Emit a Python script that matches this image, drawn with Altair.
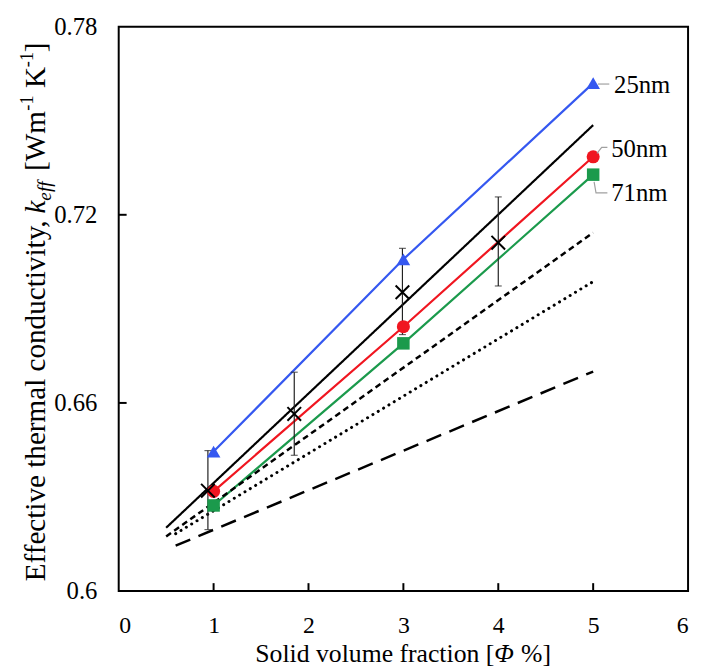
import altair as alt
import pandas as pd

# ---------------- data ----------------
phi_sim = [1, 3, 5]
k_25nm = [0.6445, 0.7058, 0.7620]
k_50nm = [0.6318, 0.6843, 0.7385]
k_71nm = [0.6273, 0.6790, 0.7328]

# experimental points (black crosses) with error bars
phi_exp = [0.94, 1.85, 2.99, 4.0]
k_exp = [0.6320, 0.6565, 0.6953, 0.7111]
k_exp_lo = [0.6196, 0.6433, 0.6818, 0.6973]
k_exp_hi = [0.6448, 0.6698, 0.7093, 0.7257]

# model / correlation lines (start and end points)
solid_x = [0.5, 5.0]
solid_k = [0.6202, 0.7486]
shortdash_x = [0.5, 5.0]
shortdash_k = [0.6174, 0.7143]
dotted_x = [0.6, 5.0]
dotted_k = [0.6183, 0.6987]
longdash_x = [0.6, 5.0]
longdash_k = [0.6145, 0.6700]

# series labels with leader lines
label_names = ["25nm", "50nm", "71nm"]
label_x = [5.22, 5.19, 5.19]
label_k = [0.7614, 0.7411, 0.7269]
leader_25_x = [5.05, 5.17]
leader_25_k = [0.7617, 0.7617]
leader_50_x = [5.04, 5.09, 5.15]
leader_50_k = [0.7396, 0.7415, 0.7415]
leader_71_x = [5.01, 5.03, 5.15]
leader_71_k = [0.7305, 0.7270, 0.7270]

x_ticks = [0, 1, 2, 3, 4, 5, 6]
y_ticks = [0.6, 0.66, 0.72, 0.78]
x_inner_ticks = [1, 2, 3, 4, 5]
y_inner_ticks = [0.66, 0.72]

series_names = ["25nm", "50nm", "71nm"]
series_colors = ["#3558F0", "#F01620", "#1B9A4C"]

# ---------------- layout ----------------
W, H = 576, 571
FONT = "Liberation Serif"

xs = alt.Scale(domain=[0, 6], nice=False, zero=False)
ys = alt.Scale(domain=[0.6, 0.78], nice=False, zero=False)

X = alt.X("phi:Q", scale=xs,
          axis=alt.Axis(values=x_ticks, format="d", title=None, grid=False,
                        ticks=False, domain=False, labelFont=FONT, labelFontSize=24,
                        labelColor="black", labelPadding=23))
Y = alt.Y("k:Q", scale=ys,
          axis=alt.Axis(values=y_ticks, format="~g", title=None, grid=False,
                        ticks=False, domain=False, labelFont=FONT, labelFontSize=25,
                        labelColor="black", labelPadding=22))

sim_rows = []
for name, vals in zip(series_names, [k_25nm, k_50nm, k_71nm]):
    for p, k in zip(phi_sim, vals):
        sim_rows.append({"series": name, "phi": p, "k": k})
sim = pd.DataFrame(sim_rows)

color = alt.Color("series:N", scale=alt.Scale(domain=series_names, range=series_colors), legend=None)

base_axes = alt.Chart(sim).mark_line(strokeWidth=2.2).encode(x=X, y=Y, color=color, detail="series:N")

sim_pts = alt.Chart(sim).mark_point(filled=True, opacity=1).encode(
    x="phi:Q", y="k:Q", color=color,
    shape=alt.Shape("series:N", scale=alt.Scale(domain=series_names,
                                                range=["triangle-up", "circle", "square"]), legend=None),
    size=alt.Size("series:N", scale=alt.Scale(domain=series_names, range=[190, 160, 140]), legend=None),
)


def model_line(xv, kv, dash, width):
    df = pd.DataFrame({"phi": xv, "k": kv})
    return alt.Chart(df).mark_line(color="black", strokeWidth=width, strokeDash=dash,
                                   strokeCap="butt").encode(x="phi:Q", y="k:Q")


solid = model_line(solid_x, solid_k, [1, 0], 2.2)
shortdash = model_line(shortdash_x, shortdash_k, [6, 4], 2.5)
dotted = alt.Chart(pd.DataFrame({"phi": dotted_x, "k": dotted_k})).mark_line(
    color="black", strokeWidth=3, strokeDash=[0.1, 6.2], strokeCap="round").encode(x="phi:Q", y="k:Q")
longdash = model_line(longdash_x, longdash_k, [16, 9], 2.5)

exp = pd.DataFrame({"phi": phi_exp, "k": k_exp, "lo": k_exp_lo, "hi": k_exp_hi})
err = alt.Chart(exp).mark_rule(color="#222222", strokeWidth=1.2).encode(x="phi:Q", y="lo:Q", y2="hi:Q")
cap_lo = alt.Chart(exp).mark_tick(color="#222222", orient="horizontal", size=7, thickness=1.2).encode(
    x="phi:Q", y="lo:Q")
cap_hi = alt.Chart(exp).mark_tick(color="#222222", orient="horizontal", size=7, thickness=1.2).encode(
    x="phi:Q", y="hi:Q")
crosses = alt.Chart(exp).mark_point(shape="M-1,-1L1,1M-1,1L1,-1", size=190, filled=False,
                                    color="black", strokeWidth=2, opacity=1).encode(x="phi:Q", y="k:Q")

lead_rows = []
for name, lx, lk in [("25nm", leader_25_x, leader_25_k), ("50nm", leader_50_x, leader_50_k),
                     ("71nm", leader_71_x, leader_71_k)]:
    for i, (a, b) in enumerate(zip(lx, lk)):
        lead_rows.append({"series": name, "phi": a, "k": b, "o": i})
leaders = alt.Chart(pd.DataFrame(lead_rows)).mark_line(color="#A0A0A0", strokeWidth=1.2).encode(
    x="phi:Q", y="k:Q", detail="series:N", order="o:Q")

labels = alt.Chart(pd.DataFrame({"name": label_names, "phi": label_x, "k": label_k})).mark_text(
    font=FONT, fontSize=25, align="left", baseline="middle", color="black").encode(
    x="phi:Q", y="k:Q", text="name:N")

# inner ticks
xt = alt.Chart(pd.DataFrame({"phi": x_inner_ticks})).mark_rule(color="black", strokeWidth=2).encode(
    x="phi:Q", y=alt.value(H), y2=alt.value(H - 8))
yt = alt.Chart(pd.DataFrame({"k": y_inner_ticks})).mark_rule(color="black", strokeWidth=2).encode(
    y="k:Q", x=alt.value(0), x2=alt.value(8))


def txt(s, x, y, size=29.5, italic=False, angle=0, align="left"):
    return alt.Chart(pd.DataFrame({"t": [s]})).mark_text(
        font=FONT, fontSize=size, fontStyle="italic" if italic else "normal", angle=angle,
        align=align, baseline="alphabetic", color="black").encode(
        text="t:N", x=alt.value(x), y=alt.value(y))


# y-axis title pieces (rotated, reading bottom to top)
BX = -75
ytitle = [
    txt("Effective thermal conductivity,", BX, 196, angle=270, align="right"),
    txt("k", BX, 189, italic=True, angle=270),
    txt("eff", BX + 7, 176, size=19.5, italic=True, angle=270),
    txt("[Wm", BX, 146, angle=270),
    txt("-1", BX - 12, 85, size=18.5, angle=270),
    txt("K", BX, 62, angle=270),
    txt("-1", BX - 12, 41, size=18.5, angle=270),
    txt("]", BX, 26, angle=270),
]

# x-axis title pieces
TY = 643
xtitle = [
    txt("Solid volume fraction [", 380, TY, size=26, align="right"),
    txt("Φ", 380, TY, size=26, italic=True),
    txt("%]", 407, TY, size=26),
]

chart = alt.layer(
    base_axes, longdash, dotted, shortdash, solid, err, cap_lo, cap_hi,
    sim_pts, crosses, leaders, labels, xt, yt, *ytitle, *xtitle
).properties(
    width=W, height=H,
    background="white",
    autosize=alt.AutoSizeParams(type="none"),
    padding={"left": 112, "top": 15, "right": 5, "bottom": 78},
).configure_view(stroke="black", strokeWidth=2)

chart.save("out.html", embed_options={"renderer": "svg", "actions": False})
